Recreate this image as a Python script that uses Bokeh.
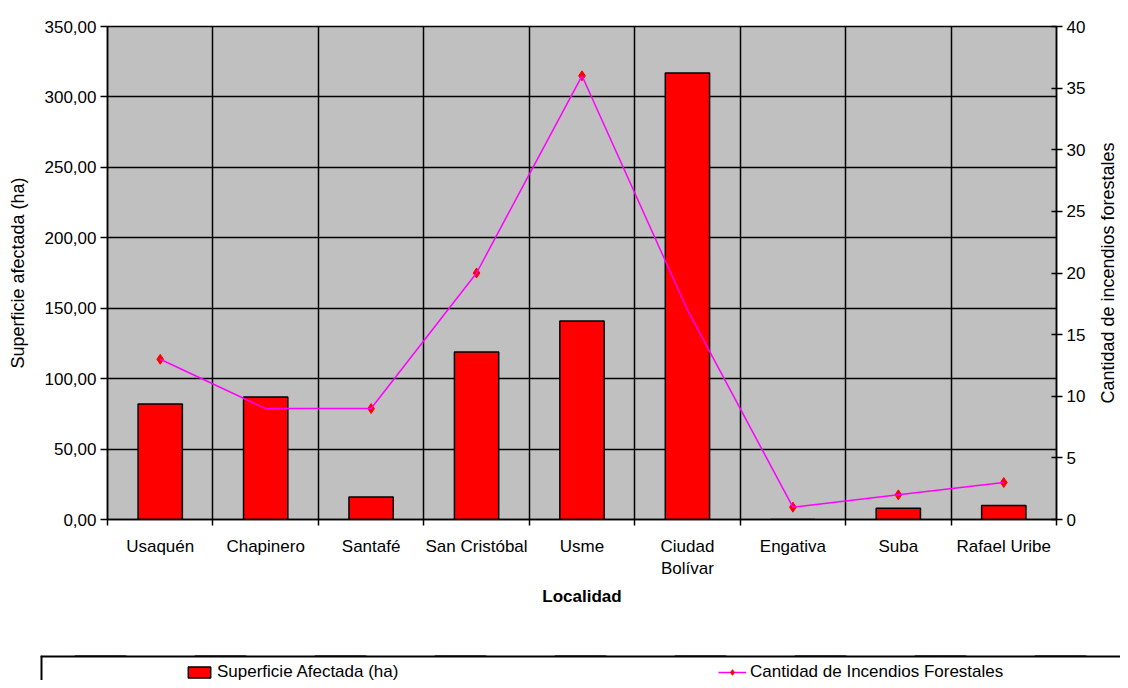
import math
from bokeh.plotting import figure
from bokeh.layouts import column, row
from bokeh.models import (FactorRange, Range1d, LinearAxis, FixedTicker, Grid,
                          Legend, LegendItem, ColumnDataSource, Span, Label)
from bokeh.embed import file_html
from bokeh.resources import INLINE

# ---- data ----
localidades = ["Usaquén", "Chapinero", "Santafé", "San Cristóbal", "Usme",
               "Ciudad Bolívar", "Engativa", "Suba", "Rafael Uribe"]
etiquetas = ["Usaquén", "Chapinero", "Santafé", "San Cristóbal", "Usme",
             "Ciudad\nBolívar", "Engativa", "Suba", "Rafael Uribe"]
superficie_ha = [82, 87, 16, 119, 141, 317, 0, 8, 10]
incendios = [13, 9, 9, 20, 36, 17, 1, 2, 3]
left_ticks = [0, 50, 100, 150, 200, 250, 300, 350]
right_ticks = [0, 5, 10, 15, 20, 25, 30, 35, 40]

FONT = "Liberation Sans"
FS = "17px"
TFS = "18px"
TXT = "black"
BAR_STYLE = dict(fill_color="#FF0000", line_color="black", line_width=1.5)
LINE_STYLE = dict(line_color="#FF00FF", line_width=1.5)
MK_STYLE = dict(marker="diamond", size=10, fill_color="#FF0000", line_color="#FF0000")

src = ColumnDataSource(dict(loc=localidades, sup=superficie_ha, inc=incendios))

p = figure(width=1088, height=655, output_backend="svg", toolbar_location=None,
           x_range=FactorRange(factors=localidades, range_padding=0),
           y_range=Range1d(0, 350), x_axis_location=None,
           min_border_left=107, min_border_right=30, min_border_top=26,
           min_border_bottom=136)
p.frame_align = False
p.extra_y_ranges = {"inc": Range1d(0, 40)}
p.background_fill_color = "#C0C0C0"
p.border_fill_color = "white"
p.outline_line_color = "black"
p.outline_line_width = 1.5

# x axis: labels at category centres, tick marks at boundaries
n = len(localidades)
centres = [i + 0.5 for i in range(n)]
bounds = [float(i) for i in range(n + 1)]
xt = FixedTicker(ticks=centres, minor_ticks=bounds)
xaxis = LinearAxis(ticker=xt,
                   major_label_overrides={c: lab for c, lab in zip(centres, etiquetas)},
                   axis_label="Localidad")
xaxis.major_tick_line_color = None
xaxis.minor_tick_in = 0
xaxis.minor_tick_out = 6
xaxis.minor_tick_line_color = "black"
xaxis.minor_tick_line_width = 1.5
xaxis.axis_line_width = 1.5
xaxis.major_label_standoff = 11
xaxis.major_label_text_font = FONT
xaxis.major_label_text_font_size = FS
xaxis.major_label_text_color = TXT
xaxis.axis_label_text_font = FONT
xaxis.axis_label_text_font_size = FS
xaxis.axis_label_text_font_style = "bold"
xaxis.axis_label_text_color = TXT
xaxis.axis_label_standoff = 6
p.add_layout(xaxis, "below")
for g in p.xgrid:
    g.visible = False
p.add_layout(Grid(dimension=0, ticker=FixedTicker(ticks=bounds),
                  grid_line_color="black", grid_line_width=1.5))

# left axis
ya = p.yaxis[0]
ya.ticker = FixedTicker(ticks=left_ticks)
ya.major_label_overrides = {t: f"{t:.2f}".replace(".", ",") for t in left_ticks}
ya.axis_label = "Superficie afectada (ha)"
ya.axis_label_text_font = FONT
ya.axis_label_text_font_size = TFS
ya.axis_label_text_font_style = "normal"
ya.axis_label_text_color = TXT
ya.axis_label_standoff = 14
ya.major_label_text_font = FONT
ya.major_label_text_font_size = FS
ya.major_label_text_color = TXT
ya.major_tick_in = 0
ya.major_tick_out = 7
ya.major_tick_line_width = 1.5
ya.axis_line_width = 1.5
ya.minor_tick_line_color = None
ya.major_label_standoff = 4
p.ygrid.grid_line_color = "black"
p.ygrid.grid_line_width = 1.5

# right axis (title drawn in a narrow strip to its right)
ra = LinearAxis(y_range_name="inc", ticker=FixedTicker(ticks=right_ticks))
ra.major_label_text_font = FONT
ra.major_label_text_font_size = FS
ra.major_label_text_color = TXT
ra.major_tick_in = 5
ra.major_tick_out = 6
ra.major_tick_line_width = 1.5
ra.axis_line_width = 1.5
ra.minor_tick_line_color = None
ra.major_label_standoff = 4
p.add_layout(ra, "right")

# glyphs: markers behind bars, line on top
mk = p.scatter(x="loc", y="inc", source=src, y_range_name="inc", **MK_STYLE)
bars = p.vbar(x="loc", top="sup", source=src, width=0.42, **BAR_STYLE)
ln = p.line(x="loc", y="inc", source=src, y_range_name="inc", **LINE_STYLE)

# right-axis title strip
pt = figure(width=32, height=655, output_backend="svg", toolbar_location=None,
            x_range=Range1d(0, 1), y_range=Range1d(0, 1),
            x_axis_location=None, y_axis_location=None,
            min_border_left=0, min_border_right=0, min_border_top=26, min_border_bottom=136)
pt.frame_align = False
pt.grid.visible = False
pt.outline_line_color = None
pt.background_fill_color = "white"
pt.border_fill_color = "white"
pt.add_layout(Label(x=0.5, y=0.5, x_offset=3, text="Cantidad de incendios forestales",
                    angle=math.pi / 2, text_align="center", text_baseline="middle",
                    text_font=FONT, text_font_size=TFS, text_color=TXT))

# legend strip (separate small figure below); its y range lies below the data,
# so the proxy renderers only show up as legend glyphs
pl = figure(width=1120, height=25, output_backend="svg", toolbar_location=None,
            x_range=FactorRange(factors=localidades, range_padding=0), y_range=Range1d(-2, -1),
            x_axis_location=None, y_axis_location=None,
            min_border_left=40, min_border_right=0, min_border_top=0, min_border_bottom=0)
pl.frame_align = False
pl.grid.visible = False
pl.outline_line_color = None
pl.background_fill_color = "white"
pl.border_fill_color = "white"
pl.add_layout(Span(location=0, dimension="height", line_color="black", line_width=4))
pl.add_layout(Span(location=-1, dimension="width", line_color="black", line_width=4))

lg_bar = pl.vbar(x="loc", top="sup", source=src, width=0.42, **BAR_STYLE)
lg_ln = pl.line(x="loc", y="inc", source=src, **LINE_STYLE)
lg_mk = pl.scatter(x="loc", y="inc", source=src, **MK_STYLE)

leg = Legend(items=[LegendItem(label="Superficie Afectada (ha)", renderers=[lg_bar]),
                    LegendItem(label="Cantidad de Incendios Forestales", renderers=[lg_ln, lg_mk])],
             orientation="horizontal", location=(145, -2), padding=0, margin=0,
             glyph_width=28, glyph_height=14, label_standoff=4, label_width=485,
             spacing=16, border_line_color=None, background_fill_alpha=0,
             label_text_font=FONT, label_text_font_size=FS, label_text_color=TXT,
             label_height=14)
pl.add_layout(leg, "center")

layout = column(row(p, pt, spacing=0), pl, spacing=0)
open("out.html", "w").write(file_html(layout, INLINE))
